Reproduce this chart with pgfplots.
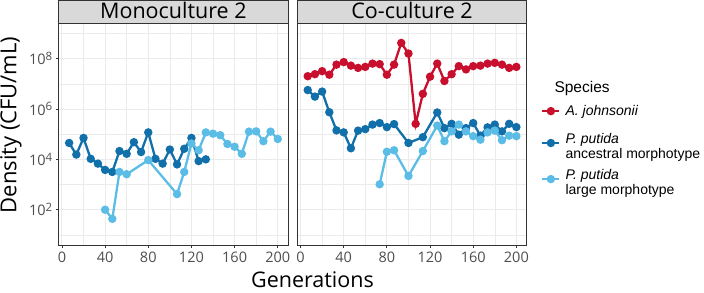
\documentclass[border=0pt]{standalone}
\usepackage{pgfplots}
\pgfplotsset{compat=1.18}
\usepackage{fontspec}
\setmainfont{Open Sans}
\newfontfamily\legfont{Liberation Sans}
\definecolor{cred}{HTML}{C8102E}
\definecolor{cdark}{HTML}{1170AA}
\definecolor{clight}{HTML}{5BBDE6}
\definecolor{gridc}{HTML}{EBEBEB}
\definecolor{borderc}{HTML}{333333}
\definecolor{tickc}{HTML}{4D4D4D}
\definecolor{stripc}{HTML}{D9D9D9}
\newcommand{\tenp}[1]{10\raisebox{4.3pt}{\fontsize{11.5}{11.5}\selectfont #1}}

% y values are log10(CFU/mL)
\pgfplotstableread{
x y
6.67 4.65
13.33 4.19
20 4.85
26.67 4.02
33.33 3.83
40 3.58
46.67 3.50
53.33 4.33
60 4.22
66.67 4.68
73.33 4.29
80 5.07
86.67 4.02
93.33 3.83
100 4.39
106.67 3.80
113.33 4.42
120 4.85
126.67 3.93
133.33 4.00
}\monoanc

\pgfplotstableread{
x y
40 2.00
46.67 1.64
53.33 3.50
60 3.41
80 3.97
106.67 2.62
113.33 3.50
120 4.63
126.67 4.36
133.33 5.07
140 5.02
146.67 4.96
153.33 4.61
160 4.50
166.67 4.22
173.33 5.10
180 5.11
186.67 4.72
193.33 5.10
200 4.81
}\monolarge

\pgfplotstableread{
x y
6.67 7.30
13.33 7.38
20 7.50
26.67 7.36
33.33 7.76
40 7.86
46.67 7.72
53.33 7.63
60 7.67
66.67 7.80
73.33 7.78
80 7.36
86.67 7.76
93.33 8.62
100 8.20
106.67 5.41
113.33 6.60
120 7.28
126.67 7.80
133.33 7.11
140 7.38
146.67 7.70
153.33 7.57
160 7.70
166.67 7.72
173.33 7.80
180 7.83
186.67 7.76
193.33 7.63
200 7.67
}\cored

\pgfplotstableread{
x y
6.67 6.75
13.33 6.49
20 6.69
26.67 5.87
33.33 5.15
40 5.07
46.67 4.44
53.33 5.14
60 5.20
66.67 5.38
73.33 5.44
80 5.28
86.67 5.40
100 4.65
113.33 4.88
126.67 5.86
133.33 5.24
140 5.41
146.67 4.98
153.33 5.24
160 5.44
166.67 4.94
173.33 5.27
180 5.38
186.67 5.11
193.33 5.41
200 5.28
}\coanc

\pgfplotstableread{
x y
73.33 3.01
80 4.30
86.67 4.36
100 3.34
113.33 4.33
126.67 5.34
133.33 4.72
140 5.11
146.67 5.38
153.33 5.11
160 4.92
166.67 4.78
173.33 5.07
180 5.14
186.67 4.76
193.33 4.94
200 4.92
}\colarge

\begin{document}
\begin{tikzpicture}
\useasboundingbox (0pt,0pt) rectangle (704pt,292pt);
\begin{axis}[
    scale only axis, width=229.5pt, height=221.7pt, anchor=south west,
    at={(58.7pt,47pt)},
    xmin=-3, xmax=209.67, ymin=0.6, ymax=9.4,
    xtick={0,40,80,120,160,200}, minor xtick={20,60,100,140,180},
    xticklabels={0,40,80,120,160,200},
    ytick={2,4,6,8}, minor ytick={1,3,5,7,9},
    yticklabels={\tenp{2},\tenp{4},\tenp{6},\tenp{8}},
    grid=both,
    major grid style={color=gridc, line width=0.9pt},
    minor grid style={color=gridc, line width=0.45pt},
    axis line style={color=borderc, line width=0.8pt},
    tick align=outside, tick pos=left,
    major tick length=3pt, minor tick length=0pt,
    tick style={color=borderc, line width=0.8pt},
    xticklabel style={font=\fontsize{14.5}{14.5}\selectfont, text=tickc},
    yticklabel style={font=\fontsize{14.5}{14.5}\selectfont, text=tickc},
  ]
\addplot[line width=2.3pt, mark=*, mark size=3pt, color=cdark] table[x=x,y=y] {\monoanc};
\addplot[line width=2.3pt, mark=*, mark size=3pt, color=clight] table[x=x,y=y] {\monolarge};
\end{axis}
\begin{axis}[
    scale only axis, width=229.5pt, height=221.7pt, anchor=south west,
    at={(297.3pt,47pt)},
    xmin=-3, xmax=209.67, ymin=0.6, ymax=9.4,
    xtick={0,40,80,120,160,200}, minor xtick={20,60,100,140,180},
    xticklabels={0,40,80,120,160,200},
    ytick={2,4,6,8}, minor ytick={1,3,5,7,9},
    yticklabels={}, ymajorticks=false,
    grid=both,
    major grid style={color=gridc, line width=0.9pt},
    minor grid style={color=gridc, line width=0.45pt},
    axis line style={color=borderc, line width=0.8pt},
    tick align=outside, tick pos=left,
    major tick length=3pt, minor tick length=0pt,
    tick style={color=borderc, line width=0.8pt},
    xticklabel style={font=\fontsize{14.5}{14.5}\selectfont, text=tickc},
    legend style={at={(1.0619,0.631)}, anchor=north west, draw=none, fill=none,
      inner sep=0pt, row sep=16pt, column sep=5pt,
      font=\legfont\fontsize{14}{15}\selectfont,
      nodes={inner sep=0pt}},
    legend cell align=left,
  ]
\addplot[line width=2.3pt, mark=*, mark size=3pt, color=cred] table[x=x,y=y] {\cored};
\addlegendentry{\raisebox{0pt}[\height][0pt]{\textit{A. johnsonii}}}
\addplot[line width=2.3pt, mark=*, mark size=3pt, color=cdark] table[x=x,y=y] {\coanc};
\addlegendentry{\begin{tabular}{@{}l@{}}\textit{P. putida}\\ancestral morphotype\end{tabular}}
\addplot[line width=2.3pt, mark=*, mark size=3pt, color=clight] table[x=x,y=y] {\colarge};
\addlegendentry{\begin{tabular}{@{}l@{}}\textit{P. putida}\\large morphotype\end{tabular}}
\end{axis}
% strips
\draw[fill=stripc, draw=borderc, line width=0.8pt] (58.7pt,268.7pt) rectangle (288.2pt,291.5pt);
\draw[fill=stripc, draw=borderc, line width=0.8pt] (297.3pt,268.7pt) rectangle (526.8pt,291.5pt);
\node[anchor=base, font=\fontsize{21.5}{21.5}\selectfont] at (173.4pt,273pt) {Monoculture 2};
\node[anchor=base, font=\fontsize{21.5}{21.5}\selectfont] at (412pt,273pt) {Co-culture 2};
% axis titles
\node[anchor=base, font=\fontsize{21.5}{21.5}\selectfont] at (312.5pt,4.5pt) {Generations};
\node[rotate=90, font=\fontsize{22}{22}\selectfont] at (11pt,167pt) {Density (CFU/mL)};
\node[anchor=base west, font=\legfont\fontsize{15.5}{15.5}\selectfont] at (551pt,199.3pt) {Species};
\end{tikzpicture}
\end{document}
